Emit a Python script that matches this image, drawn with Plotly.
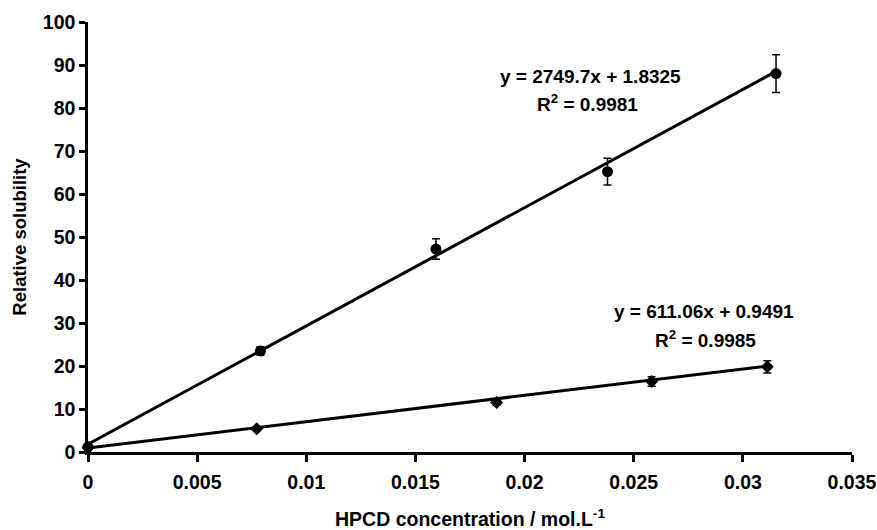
import plotly.graph_objects as go

# Data
x_upper = [0.0, 0.0079, 0.01594, 0.0238, 0.03152]
y_upper = [1.2, 23.5, 47.2, 65.2, 88.0]
e_upper = [0.5, 1.0, 2.4, 3.1, 4.4]

x_lower = [0.0, 0.00773, 0.01872, 0.02582, 0.03112]
y_lower = [1.0, 5.4, 11.5, 16.4, 19.8]
e_lower = [0.3, 0.4, 0.6, 1.1, 1.4]

fit_upper = (2749.7, 1.8325, 0.9981)
fit_lower = (611.06, 0.9491, 0.9985)

x_ticks = [0, 0.005, 0.01, 0.015, 0.02, 0.025, 0.03, 0.035]
x_ticklabels = ["0", "0.005", "0.01", "0.015", "0.02", "0.025", "0.03", "0.035"]
y_ticks = [0, 10, 20, 30, 40, 50, 60, 70, 80, 90, 100]

FONT = "Liberation Sans"

fig = go.Figure()

# trend lines from the fitted equations
for xs, (m, c, r2) in ((x_upper, fit_upper), (x_lower, fit_lower)):
    xe = [0.0, max(xs)]
    fig.add_trace(go.Scatter(x=xe, y=[m * v + c for v in xe], mode="lines",
                             line=dict(color="black", width=3), showlegend=False,
                             hoverinfo="skip", cliponaxis=False))

fig.add_trace(go.Scatter(x=x_upper, y=y_upper, mode="markers",
                         marker=dict(symbol="circle", size=11, color="black"),
                         error_y=dict(type="data", array=e_upper, color="black",
                                      thickness=1.5, width=4),
                         showlegend=False, cliponaxis=False))
fig.add_trace(go.Scatter(x=x_lower, y=y_lower, mode="markers",
                         marker=dict(symbol="diamond", size=10, color="black"),
                         error_y=dict(type="data", array=e_lower, color="black",
                                      thickness=1.5, width=4),
                         showlegend=False, cliponaxis=False))

ann_font = dict(family=FONT, size=19, color="black")
fig.add_annotation(x=0.0230, y=87.4, xref="x", yref="y", showarrow=False,
                   text="<b>y = %sx + %s</b>" % (fit_upper[0], fit_upper[1]),
                   font=ann_font)
fig.add_annotation(x=0.0229, y=81.2, xref="x", yref="y", showarrow=False,
                   text="<b>R<sup>2</sup> = %s</b>" % fit_upper[2], font=ann_font)
fig.add_annotation(x=0.02822, y=32.6, xref="x", yref="y", showarrow=False,
                   text="<b>y = %sx + %s</b>" % (fit_lower[0], fit_lower[1]),
                   font=ann_font)
fig.add_annotation(x=0.02827, y=26.3, xref="x", yref="y", showarrow=False,
                   text="<b>R<sup>2</sup> = %s</b>" % fit_lower[2], font=ann_font)

fig.update_layout(
    width=877, height=530,
    margin=dict(l=88, r=25, t=22, b=78),
    paper_bgcolor="white", plot_bgcolor="white",
    font=dict(family=FONT, color="black"),
    xaxis=dict(range=[0, 0.035], tickvals=x_ticks, automargin=False,
               ticktext=["<b>%s</b>" % t for t in x_ticklabels],
               showgrid=False, zeroline=False, showline=True, linecolor="black",
               linewidth=2.5, ticks="outside", ticklen=7, tickwidth=2.5,
               tickcolor="black", ticklabelstandoff=4,
               tickfont=dict(family=FONT, size=19.5),
               title=dict(text="<b>HPCD concentration / mol.L<sup>-1</sup></b>",
                          font=dict(family=FONT, size=19.5), standoff=22)),
    yaxis=dict(range=[0, 100], tickvals=y_ticks, automargin=False,
               ticktext=["<b>%d</b>" % t for t in y_ticks],
               showgrid=False, zeroline=False, showline=True, linecolor="black",
               linewidth=2.5, ticks="outside", ticklen=6, tickwidth=2.5,
               tickcolor="black",
               tickfont=dict(family=FONT, size=19.5),
               title=dict(text="<b>Relative solubility</b>",
                          font=dict(family=FONT, size=18.5), standoff=12)),
)

fig.write_html("out.html")
